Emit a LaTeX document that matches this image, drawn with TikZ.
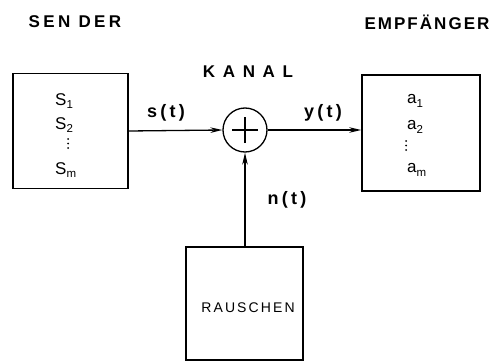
\documentclass[tikz,border=0pt]{standalone}
\usepackage{fontspec}
\setmainfont{Liberation Sans}
\usetikzlibrary{arrows.meta}
\newcommand{\lsub}[1]{\raisebox{-0.4ex}{\fontsize{11.5}{11.5}\selectfont #1}}
\tikzset{
  box/.style={draw, line width=1.6pt, inner sep=0pt},
  title/.style={font=\bfseries\fontsize{17}{17}\selectfont, inner sep=0pt},
  sym/.style={font=\fontsize{17}{17}\selectfont, inner sep=0pt, anchor=west},
  sig/.style={font=\bfseries\fontsize{18}{18}\selectfont, inner sep=0pt},
  conn/.style={line width=1.3pt, -{Stealth[length=12pt,width=5.5pt]}},
  dot/.style={fill, circle, inner sep=0pt, minimum size=2pt},
}
\begin{document}
\begin{tikzpicture}[x=1pt,y=-1pt]
\useasboundingbox (0,0) rectangle (493,361);
% titles
\node[title] (tsender) at (75,22) {\addfontfeature{LetterSpace=20}SEN DER};
\node[title] (tempf) at (427,22) {\addfontfeature{LetterSpace=12}EMPFÄNGER};
\node[title] (tkanal) at (248,72) {\addfontfeature{LetterSpace=45}KANAL};
% sender box
\node[box, minimum width=115pt, minimum height=115pt] (sender) at (70.5,131) {};
\node[sym] (s1) at (55,101) {S\lsub{1}};
\node[sym] (s2) at (55,125) {S\lsub{2}};
\node[sym] (sm) at (55,170) {S\lsub{m}};
\node[dot] (sd1) at (68,139) {};
\node[dot] (sd2) at (68,143.5) {};
\node[dot] (sd3) at (68,148) {};
% receiver box
\node[box, minimum width=118pt, minimum height=116pt] (recv) at (421,133) {};
\node[sym] (a1) at (407,101) {a\lsub{1}};
\node[sym] (a2) at (407,127) {a\lsub{2}};
\node[sym] (am) at (407,170) {a\lsub{m}};
\node[dot] (ad1) at (406,141) {};
\node[dot] (ad2) at (406,145.5) {};
\node[dot] (ad3) at (406,150) {};
% adder
\node[draw, circle, line width=1.3pt, minimum size=44pt, inner sep=0pt] (add) at (245,130) {};
\draw[line width=1.2pt] ([xshift=-13pt]add.center) -- ([xshift=13pt]add.center)
  ([yshift=-13pt]add.center) -- ([yshift=13pt]add.center);
% noise box
\node[box, minimum width=117pt, minimum height=113pt] (noise) at (244.5,303.5) {};
\node[font=\fontsize{14}{14}\selectfont, inner sep=0pt] (rausch) at (248,308) {\addfontfeature{LetterSpace=15}RAUSCHEN};
% connectors
\draw[conn] (sender.east) -- (add.west);
\draw[conn] (add.east) -- (recv.west |- add.east);
\draw[conn] (noise.north -| add.south) -- (add.south);
% signal labels
\node[sig] (lst) at (166,113) {\addfontfeature{LetterSpace=18}s(t)};
\node[sig] (lyt) at (323,113) {\addfontfeature{LetterSpace=18}y(t)};
\node[sig] (lnt) at (287,200) {\addfontfeature{LetterSpace=18}n(t)};
\end{tikzpicture}
\end{document}
